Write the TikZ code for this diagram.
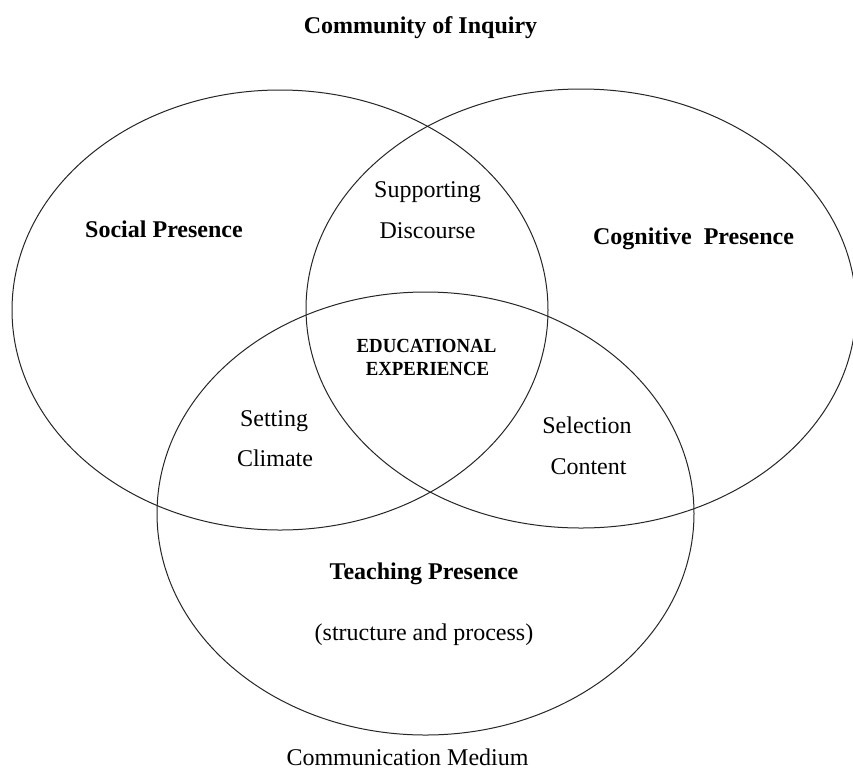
\documentclass[tikz,border=0pt]{standalone}
\usepackage{fontspec}
\setmainfont{Liberation Serif}
\usetikzlibrary{shapes.geometric}
\begin{document}
\begin{tikzpicture}[x=1pt,y=-1pt,
  ring/.style={ellipse,draw=black!85,line width=1pt,inner sep=0pt},
  boldlbl/.style={anchor=base,inner sep=0pt,font=\fontsize{24}{28}\selectfont\bfseries},
  plainlbl/.style={anchor=base,inner sep=0pt,font=\fontsize{24}{28}\selectfont},
  centerlbl/.style={anchor=base,inner sep=0pt,font=\fontsize{20}{24}\selectfont\bfseries}]
\useasboundingbox (0,0) rectangle (853,769);
\clip (0,0) rectangle (853,769);
\fill[white] (0,0) rectangle (853,769);
% circles
\node[ring,minimum width=536pt,minimum height=440pt] (social) at (280,310) {};
\node[ring,minimum width=550pt,minimum height=439pt] (cognitive) at (581,308.5) {};
\node[ring,minimum width=537pt,minimum height=443pt] (teaching) at (425.5,513.5) {};
% labels
\node[boldlbl] (title) at (420.5,33) {Community of Inquiry};
\node[boldlbl] (soc) at (164,237) {Social Presence};
\node[boldlbl] (cog) at (693.5,244) {Cognitive~~Presence};
\node[plainlbl] (sup1) at (427.5,197) {Supporting};
\node[plainlbl] (sup2) at (427.5,238) {Discourse};
\node[centerlbl] (edu1) at (426.5,352) {\scalebox{0.94}[1]{EDUCATIONAL}};
\node[centerlbl] (edu2) at (427.5,375) {\scalebox{0.94}[1]{EXPERIENCE}};
\node[plainlbl] (set1) at (274,426) {Setting};
\node[plainlbl] (set2) at (275,466) {Climate};
\node[plainlbl] (sel1) at (587,433) {Selection};
\node[plainlbl] (sel2) at (588.5,474) {Content};
\node[boldlbl] (tea) at (424,579) {Teaching Presence};
\node[plainlbl] (proc) at (424,640) {(structure and process)};
\node[plainlbl] (med) at (407.5,765) {Communication Medium};
\end{tikzpicture}
\end{document}
